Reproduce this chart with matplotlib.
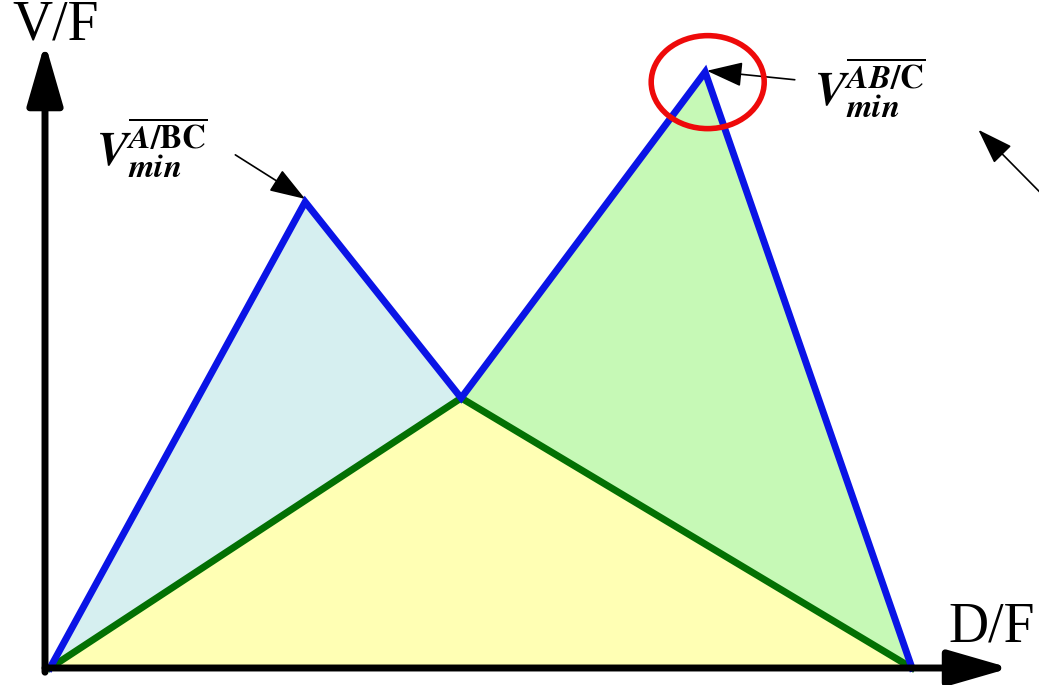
import matplotlib
matplotlib.use("Agg")
import matplotlib.pyplot as plt
from matplotlib.patches import Ellipse, Polygon

# Data (D/F on x, V/F on y), normalized units
df_points = [0.0, 0.296, 0.477, 0.760, 1.0]       # origin, peak1, valley, peak2, end
vf_blue = [0.0, 0.782, 0.453, 1.0, 0.0]           # blue envelope
df_green = [0.0, 0.477, 1.0]
vf_green = [0.0, 0.453, 0.0]
labels = {"y": "V/F", "x": "D/F"}

plt.rcParams['mathtext.fontset'] = 'stix'
fig = plt.figure(figsize=(10.39, 6.85), dpi=100)
ax = fig.add_axes([0, 0, 1, 1])
ax.set_xlim(-50/862, 989/862)
ax.set_ylim(-17/596, 668/596)
ax.axis('off')

o, p1, v, p2, e = list(zip(df_points, vf_blue))
ax.add_patch(Polygon([o, p1, v], closed=True, facecolor='#d6eff0', edgecolor='none', zorder=1))
ax.add_patch(Polygon([v, p2, e], closed=True, facecolor='#c6f9b6', edgecolor='none', zorder=1))
ax.add_patch(Polygon(list(zip(df_green, vf_green)), closed=True, facecolor='#ffffb4', edgecolor='none', zorder=1))

ax.plot(df_green, vf_green, color='#037003', lw=5, zorder=3, solid_joinstyle='miter')
ax.plot(df_points, vf_blue, color='#0a14e6', lw=5, zorder=4, solid_joinstyle='miter')

# axes arrows
head = '-|>,head_length=2.7,head_width=0.78'
ax.annotate('', xy=(1.114, 0.0), xytext=(-0.0058, 0.0),
            arrowprops=dict(arrowstyle=head, lw=5, color='k', mutation_scale=14,
                            shrinkA=0, shrinkB=0), zorder=5)
ax.annotate('', xy=(-0.0058, 1.049), xytext=(-0.0058, -0.007),
            arrowprops=dict(arrowstyle=head, lw=5, color='k', mutation_scale=14,
                            shrinkA=0, shrinkB=0), zorder=5)

ax.text(0.006, 1.078, labels["y"], fontsize=40, family='Liberation Serif',
        ha='center', va='center')
ax.text(1.092, 0.068, labels["x"], fontsize=40, family='Liberation Serif',
        ha='center', va='center')

# annotations
ax.text(0.118, 0.872, r'$\mathbfit{V}_{\mathbfit{min}}^{\overline{\mathbfit{A}\mathbf{/BC}}}$',
        fontsize=34, ha='center', va='center')
ax.text(0.951, 0.973, r'$\mathbfit{V}_{\mathbfit{min}}^{\overline{\mathbfit{AB}\mathbf{/C}}}$',
        fontsize=34, ha='center', va='center')

arrow_kw = dict(arrowstyle='-|>,head_length=1.6,head_width=0.55', lw=1.2, color='k',
                mutation_scale=14, shrinkA=0, shrinkB=0)
ax.annotate('', xy=(0.296, 0.787), xytext=(0.215, 0.861), arrowprops=arrow_kw)
ax.annotate('', xy=(0.762, 1.002), xytext=(0.864, 0.987), arrowprops=arrow_kw)
ax.annotate('', xy=(1.077, 0.903), xytext=(1.150, 0.796), arrowprops=arrow_kw,
            annotation_clip=False)

ax.add_patch(Ellipse((0.763, 0.983), 113/862, 93/596, fill=False, edgecolor='#ee0a0a',
                     lw=4, zorder=6))

fig.savefig('out.png', dpi=100)
